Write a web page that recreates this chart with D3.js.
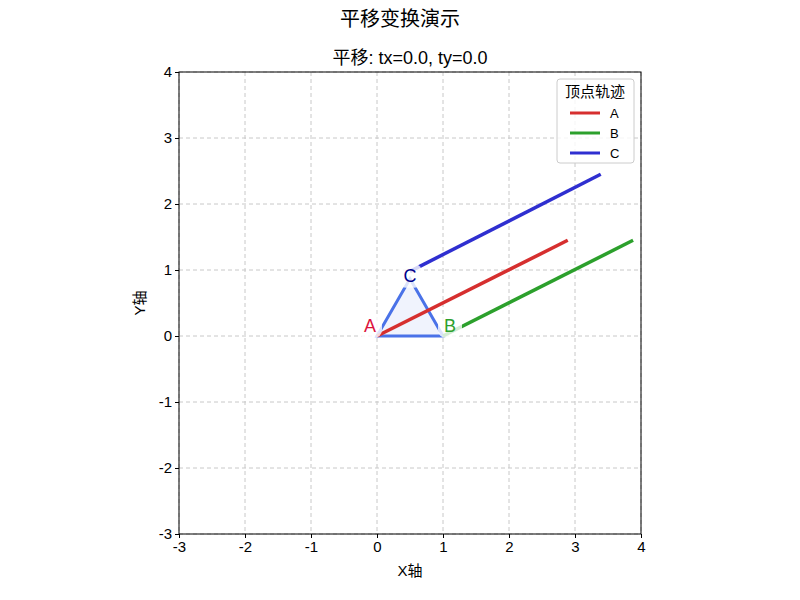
<!DOCTYPE html><html><head><meta charset="utf-8"><script src="https://cdn.jsdelivr.net/npm/d3@7"></script>
<style>body{margin:0;background:#fff}text{font-family:Arial,"Liberation Sans","Noto Sans CJK SC",sans-serif}</style></head><body><svg id="c" width="800" height="600"></svg><script>
const xTicks=[-3,-2,-1,0,1,2,3,4];
const yTicks=[-3,-2,-1,0,1,2,3,4];
const triangle=[[0,0],[1,0],[0.5,0.866]];
const vertexNames=["A","B","C"];
const labelColors=["crimson","#2ca02c","darkblue"];
const trajNames=["A","B","C"];
const trajColors=["#d62f2f","#2ca02c","#2f2fd0"];
const trajStart=[[0,0],[1,0],[0.5,0.98]];
const trajEnd=[[2.89,1.45],[3.88,1.45],[3.39,2.45]];
const svg=d3.select("#c");
const x=d3.scaleLinear().domain([-3,4]).range([179,641]);
const y=d3.scaleLinear().domain([-3,4]).range([534,72]);
const fmt=d=>String(d).replace("-","-");
const g=svg.append("g");
xTicks.forEach(t=>g.append("line").attr("x1",x(t)).attr("x2",x(t)).attr("y1",72).attr("y2",534).attr("stroke","#c8c8c8").attr("stroke-dasharray","4,3"));
yTicks.forEach(t=>g.append("line").attr("y1",y(t)).attr("y2",y(t)).attr("x1",179).attr("x2",641).attr("stroke","#c8c8c8").attr("stroke-dasharray","4,3"));
const line=d3.line().x(d=>x(d[0])).y(d=>y(d[1]));
g.append("path").attr("d",line(triangle)+"Z").attr("fill","rgba(65,105,225,0.08)").attr("stroke","#4a72e8").attr("stroke-width",3);
trajStart.forEach((s,i)=>g.append("path").attr("d",line([s,trajEnd[i]])).attr("stroke",trajColors[i]).attr("stroke-width",3.5).attr("fill","none"));
triangle.forEach((p,i)=>{
 const gx=x(p[0])+(i==0?-7:i==1?7:0), gy=y(p[1])+(i==2?-3:-10);
 g.append("rect").attr("x",gx-12).attr("y",gy-12).attr("width",24).attr("height",24).attr("rx",8).attr("fill","rgba(255,255,255,0.8)");
 g.append("text").attr("x",gx).attr("y",gy).attr("dy","0.35em").attr("text-anchor","middle").attr("font-size",18).attr("fill",labelColors[i]).text(vertexNames[i]);
});
g.append("rect").attr("x",179).attr("y",72).attr("width",462).attr("height",462).attr("fill","none").attr("stroke","#000");
g.append("g").attr("transform","translate(0,534)").call(d3.axisBottom(x).tickValues(xTicks).tickFormat(fmt).tickSize(4).tickSizeOuter(0)).call(a=>{a.select(".domain").remove();a.selectAll("text").attr("font-size",15).attr("fill","#000")});
g.append("g").attr("transform","translate(179,0)").call(d3.axisLeft(y).tickValues(yTicks).tickFormat(fmt).tickSize(4).tickSizeOuter(0)).call(a=>{a.select(".domain").remove();a.selectAll("text").attr("font-size",15).attr("fill","#000")});
svg.append("text").attr("x",400).attr("y",26).attr("text-anchor","middle").attr("font-size",20).text("平移变换演示");
svg.append("text").attr("x",410).attr("y",64).attr("text-anchor","middle").attr("font-size",18).text("平移: tx=0.0, ty=0.0");
svg.append("text").attr("x",410).attr("y",576).attr("text-anchor","middle").attr("font-size",15).text("X轴");
svg.append("text").attr("transform","translate(145,303) rotate(-90)").attr("text-anchor","middle").attr("font-size",15).text("Y轴");
const lg=svg.append("g");
lg.append("rect").attr("x",557).attr("y",79).attr("width",77).attr("height",84).attr("rx",3).attr("fill","rgba(255,255,255,0.8)").attr("stroke","#ccc");
lg.append("text").attr("x",595).attr("y",97).attr("text-anchor","middle").attr("font-size",15).text("顶点轨迹");
trajNames.forEach((n,i)=>{const yy=113+i*20;
 lg.append("line").attr("x1",570).attr("x2",600).attr("y1",yy).attr("y2",yy).attr("stroke",trajColors[i]).attr("stroke-width",3);
 lg.append("text").attr("x",610).attr("y",yy).attr("dy","0.35em").attr("font-size",13).text(n);});
</script></body></html>
